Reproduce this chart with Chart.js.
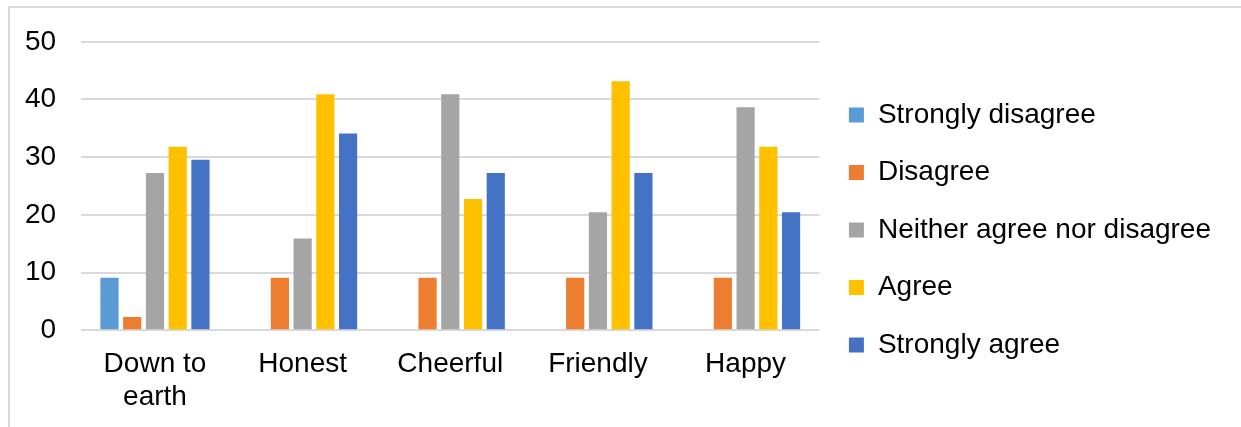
<!DOCTYPE html>
<html>
<head>
<meta charset="utf-8">
<script src="https://cdn.jsdelivr.net/npm/chart.js@4/dist/chart.umd.min.js"></script>
<style>
  html, body { margin: 0; padding: 0; background: #fff; overflow: hidden; }
  #frame { position: absolute; left: 8px; top: 6px; width: 1400px; height: 600px; border: 2px solid #d9d9d9; }
  #chart { position: absolute; left: 0; top: 0; }
</style>
</head>
<body>
<div id="frame"></div>
<canvas id="chart" width="1241" height="427"></canvas>
<script>
"use strict";
// categories along the x axis
const traits = [["Down to", "earth"], "Honest", "Cheerful", "Friendly", "Happy"];
// answer series (percent of respondents)
const stronglyDisagree = [9.09, 0, 0, 0, 0];
const disagree = [2.27, 9.09, 9.09, 9.09, 9.09];
const neither = [27.27, 15.91, 40.91, 20.45, 38.64];
const agree = [31.82, 40.91, 22.73, 43.18, 31.82];
const stronglyAgree = [29.55, 34.09, 27.27, 27.27, 20.45];
const seriesNames = ["Strongly disagree", "Disagree", "Neither agree nor disagree", "Agree", "Strongly agree"];
const yTicks = [0, 10, 20, 30, 40, 50];

const colors = ["#5b9bd5", "#ed7d31", "#a5a5a5", "#ffc000", "#4472c4"];
const allSeries = [stronglyDisagree, disagree, neither, agree, stronglyAgree];

let datasets = [];
for (let i = 0; i < allSeries.length; i++) {
  datasets.push({
    label: seriesNames[i],
    data: allSeries[i],
    backgroundColor: colors[i],
    borderWidth: 0,
    categoryPercentage: 0.77,
    barPercentage: 0.8
  });
}

const font = { family: "'Liberation Sans', Arial, sans-serif", size: 28 };

new Chart(document.getElementById('chart'), {
  type: 'bar',
  data: { labels: traits, datasets: datasets },
  options: {
    responsive: false,
    animation: false,
    layout: { padding: { left: 0, top: 41, right: 20, bottom: 8 } },
    plugins: {
      legend: {
        position: 'right',
        align: 'center',
        maxWidth: 460,
        labels: {
          boxWidth: 15,
          boxHeight: 15,
          padding: 29.5,
          color: '#000',
          font: font
        }
      },
      tooltip: { enabled: false }
    },
    scales: {
      x: {
        grid: { display: false, drawTicks: false },
        border: { display: false },
        ticks: { color: '#000', font: font, padding: 17, maxRotation: 0, autoSkip: false },
        // labels hang below the plot; give back the spare room under them
        afterFit: function(scale) { scale.height -= 12.4; }
      },
      y: {
        min: 0,
        max: 50,
        afterBuildTicks: function(axis) { axis.ticks = yTicks.map(v => ({ value: v })); },
        grid: { color: '#d9d9d9', lineWidth: 2, drawTicks: false },
        border: { display: false },
        ticks: { color: '#000', font: font, padding: 25 }
      }
    }
  }
});
</script>
</body>
</html>
